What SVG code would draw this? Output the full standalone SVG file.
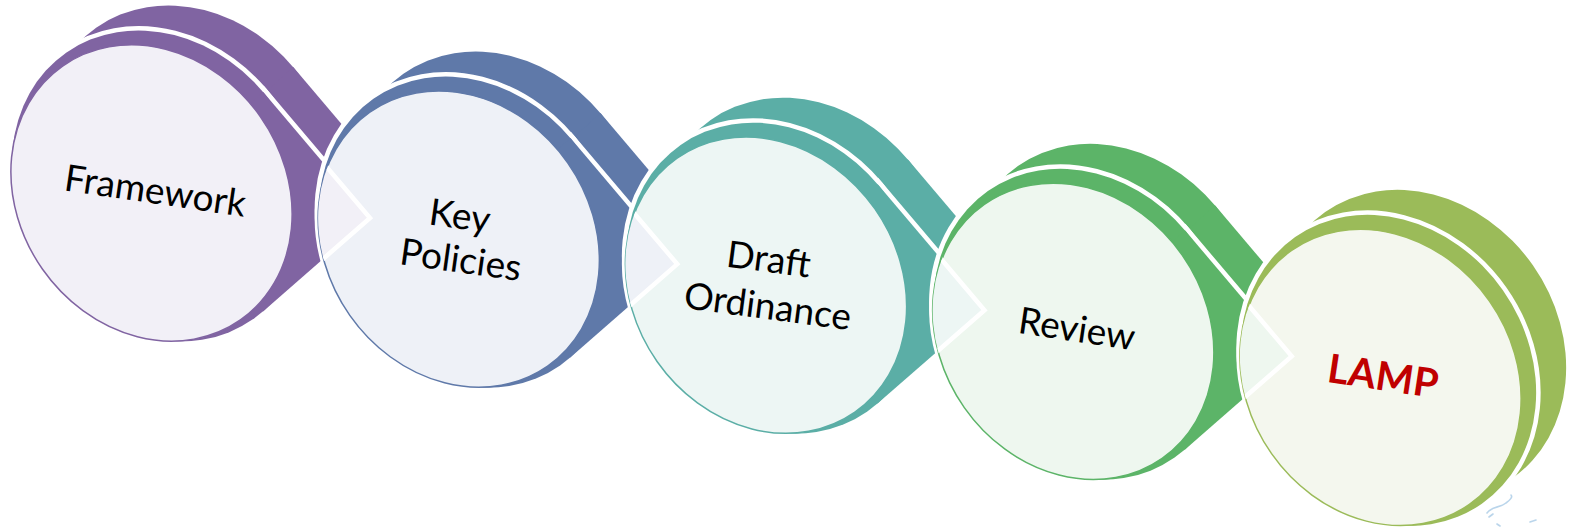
<svg xmlns="http://www.w3.org/2000/svg" xmlns:xlink="http://www.w3.org/1999/xlink" width="1569" height="529" viewBox="0 0 1569 529">
<style>
 .lbl{font-family:Lato,"Open Sans","Liberation Sans",sans-serif;font-size:37px;fill:#000;text-anchor:middle}
 .lamp{font-weight:bold;font-size:40px;fill:#c00000}
 .bstroke{fill:none;stroke:#fff;stroke-width:9;stroke-linejoin:miter}
 .ring{fill:none;stroke:#fff;stroke-width:7}
 .chev-line{fill:none;stroke:#fff;stroke-width:4.5;stroke-linejoin:miter}
</style>
<defs>
 <g id="disc"><ellipse rx="162.75" ry="139.65" transform="rotate(55)"/><polygon points="0,0 103.7,-94 210.5,32 103.5,125.4"/></g>
 <ellipse id="bell" rx="162.75" ry="139.65" transform="rotate(55)"/>
 <ellipse id="face" rx="155" ry="133" transform="rotate(55)"/>
 <clipPath id="cf1"><ellipse rx="155" ry="133" transform="translate(458.75,239.1) rotate(55)"/></clipPath>
 <clipPath id="cf2"><ellipse rx="155" ry="133" transform="translate(766,285.2) rotate(55)"/></clipPath>
 <clipPath id="cf3"><ellipse rx="155" ry="133" transform="translate(1073.25,331.3) rotate(55)"/></clipPath>
 <clipPath id="cf4"><ellipse rx="155" ry="133" transform="translate(1380.5,377.4) rotate(55)"/></clipPath>
</defs>
<rect width="1569" height="529" fill="#fff"/>

<g id="node-framework" transform="translate(151.5,193)">
 <use xlink:href="#disc" fill="#8064a2" transform="translate(38,-32)"/>
 <use xlink:href="#disc" class="bstroke" transform="translate(8,-7)"/>
 <use xlink:href="#disc" fill="#8064a2" transform="translate(8,-7)"/>
 <use xlink:href="#face" fill="#f2f0f7" stroke="#8064a2" stroke-width="1.5"/>
 <text class="lbl" transform="translate(2,10.5) rotate(8.4)">Framework</text>
</g>

<g id="node-key-policies" transform="translate(458.75,239.1)">
 <use xlink:href="#face" class="ring"/>
 <use xlink:href="#disc" fill="#5f79a9" transform="translate(38,-32)"/>
 <use xlink:href="#disc" class="bstroke" transform="translate(8,-7)"/>
 <use xlink:href="#disc" fill="#5f79a9" transform="translate(8,-7)"/>
 <use xlink:href="#face" fill="#eef1f7" stroke="#5f79a9" stroke-width="1.5"/>
 <text class="lbl" transform="translate(-0.75,-10.6) rotate(8)">Key</text>
 <text class="lbl" transform="translate(0.25,33.4) rotate(8)">Policies</text>
</g>

<g id="node-draft-ordinance" transform="translate(766,285.2)">
 <use xlink:href="#face" class="ring"/>
 <use xlink:href="#disc" fill="#5baea6" transform="translate(38,-32)"/>
 <use xlink:href="#disc" class="bstroke" transform="translate(8,-7)"/>
 <use xlink:href="#disc" fill="#5baea6" transform="translate(8,-7)"/>
 <use xlink:href="#face" fill="#edf6f4" stroke="#5baea6" stroke-width="1.5"/>
 <text class="lbl" transform="translate(1,-13.2) rotate(7.5)">Draft</text>
 <text class="lbl" transform="translate(0,33.8) rotate(7.5)">Ordinance</text>
</g>

<g id="node-review" transform="translate(1073.25,331.3)">
 <use xlink:href="#face" class="ring"/>
 <use xlink:href="#disc" fill="#5cb468" transform="translate(38,-32)"/>
 <use xlink:href="#disc" class="bstroke" transform="translate(8,-7)"/>
 <use xlink:href="#disc" fill="#5cb468" transform="translate(8,-7)"/>
 <use xlink:href="#face" fill="#eef7ef" stroke="#5cb468" stroke-width="1.5"/>
 <text class="lbl" transform="translate(1.75,10.2) rotate(8.5)">Review</text>
</g>

<g id="node-lamp" transform="translate(1380.5,377.4)">
 <use xlink:href="#face" class="ring"/>
 <use xlink:href="#bell" fill="#9bbb59" transform="translate(38,-32)"/>
 <use xlink:href="#bell" class="bstroke" transform="translate(8,-7)"/>
 <use xlink:href="#bell" fill="#9bbb59" transform="translate(8,-7)"/>
 <use xlink:href="#face" fill="#f4f7ee" stroke="#9bbb59" stroke-width="1.5"/>
 <text class="lbl lamp" transform="translate(0.5,12.6) rotate(8.6)">LAMP</text>
</g>

<g id="connectors">
 <g clip-path="url(#cf1)">
  <polygon points="263.2,92 370,218 263,311.4" fill="#f2f0f7"/>
  <polyline points="263.2,92 370,218 263,311.4" class="chev-line"/>
 </g>
 <g clip-path="url(#cf2)">
  <polygon points="570.45,138.1 677.25,264.1 570.25,357.5" fill="#eef1f7"/>
  <polyline points="570.45,138.1 677.25,264.1 570.25,357.5" class="chev-line"/>
 </g>
 <g clip-path="url(#cf3)">
  <polygon points="877.7,184.2 984.5,310.2 877.5,403.6" fill="#edf6f4"/>
  <polyline points="877.7,184.2 984.5,310.2 877.5,403.6" class="chev-line"/>
 </g>
 <g clip-path="url(#cf4)">
  <polygon points="1184.95,230.3 1291.75,356.3 1184.75,449.7" fill="#eef7ef"/>
  <polyline points="1184.95,230.3 1291.75,356.3 1184.75,449.7" class="chev-line"/>
 </g>
</g>

<g id="decor" fill="none" stroke="#a9cbe6" stroke-width="1.6" stroke-linecap="round" opacity="0.8">
 <path d="M1487,513 C1492,506 1500,508 1506,503 C1510,500 1513,497 1511,495"/>
 <path d="M1489,517 L1493,514"/>
 <path d="M1497,524 L1500,526 M1530,522 L1536,520"/>
</g>
</svg>
